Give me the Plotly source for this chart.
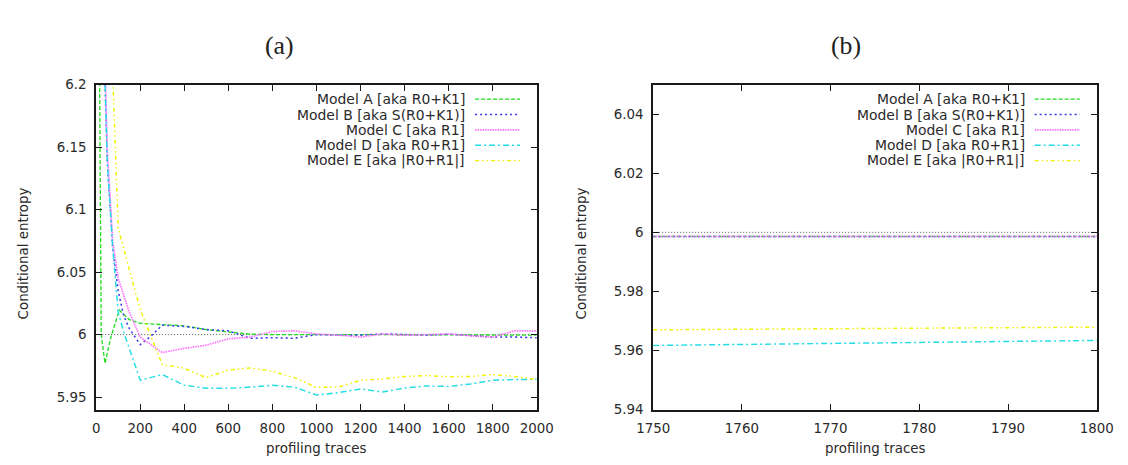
import plotly.graph_objects as go

# ---------------- data : panel (a) ----------------
a_x = [14, 19, 23, 40, 67, 105, 150, 200, 300, 400, 500, 600, 700, 800, 900, 1000,
       1200, 1400, 1600, 1800, 2000]
a_y = [6.25, 6.06, 6.0, 5.977, 5.998, 6.0195, 6.012, 6.009, 6.008, 6.007, 6.004, 6.002,
       6.0003, 6.0, 5.9998, 6.0, 6.0, 6.0, 6.0, 5.9995, 5.9995]

b_x = [25, 50, 75, 100, 125, 150, 200, 250, 300, 400, 500, 600, 700, 800, 900, 1000,
       1100, 1200, 1300, 1400, 1500, 1600, 1700, 1800, 1900, 2000]
b_y = [6.30, 6.14, 6.07, 6.035, 6.015, 6.005, 5.992, 5.999, 6.0075, 6.0065, 6.004, 6.003,
       5.997, 5.9975, 5.997, 6.0, 5.9995, 5.9995, 6.0006, 6.0, 5.9995, 6.0004, 5.999,
       5.998, 5.998, 5.9975]

c_x = [25, 50, 75, 100, 150, 200, 300, 400, 500, 600, 700, 800, 900, 1000, 1100, 1200,
       1300, 1400, 1500, 1600, 1700, 1800, 1900, 2000]
c_y = [6.32, 6.15, 6.075, 6.045, 6.018, 5.998, 5.9856, 5.989, 5.9915, 5.9966, 5.998,
       6.0025, 6.003, 6.0005, 5.9995, 5.998, 6.0005, 5.9995, 6.0, 6.0005, 5.999, 5.998,
       6.003, 6.003]

d_x = [25, 50, 75, 100, 125, 200, 300, 400, 500, 600, 700, 800, 900, 1000, 1100, 1200,
       1300, 1400, 1500, 1600, 1700, 1800, 1900, 2000]
d_y = [6.30, 6.14, 6.07, 6.018, 6.002, 5.9635, 5.968, 5.9595, 5.957, 5.957, 5.958,
       5.9594, 5.958, 5.9516, 5.9535, 5.9565, 5.954, 5.9572, 5.9589, 5.9585, 5.9605,
       5.9635, 5.964, 5.9642]

e_x = [50, 100, 200, 300, 400, 500, 600, 700, 800, 900, 1000, 1100, 1200, 1300, 1400,
       1500, 1600, 1700, 1800, 1900, 2000]
e_y = [6.335, 6.085, 6.02, 5.976, 5.973, 5.9655, 5.9716, 5.9733, 5.9706, 5.9655, 5.9578,
       5.958, 5.9635, 5.9645, 5.9665, 5.9672, 5.9663, 5.9665, 5.968, 5.9665, 5.9642]

# ---------------- data : panel (b) ----------------
zoom_x = [1750, 1775, 1800]
zoom_a = [5.9986, 5.9986, 5.9986]
zoom_b = [5.9986, 5.9986, 5.9986]
zoom_c = [5.9986, 5.9986, 5.9986]
zoom_d = [5.9617, 5.9625, 5.9634]
zoom_e = [5.9670, 5.9674, 5.9679]

reference_level = 6.0

names = ["Model A [aka R0+K1]", "Model B [aka S(R0+K1)]", "Model C [aka R1]",
         "Model D [aka R0+R1]", "Model E [aka |R0+R1|]"]

# tick labels
a_xticks = [0, 200, 400, 600, 800, 1000, 1200, 1400, 1600, 1800, 2000]
a_yticks = [5.95, 6.0, 6.05, 6.1, 6.15, 6.2]
a_yticktext = ["5.95", "6", "6.05", "6.1", "6.15", "6.2"]
b_xticks = [1750, 1760, 1770, 1780, 1790, 1800]
b_yticks = [5.94, 5.96, 5.98, 6.0, 6.02, 6.04]
b_yticktext = ["5.94", "5.96", "5.98", "6", "6.02", "6.04"]

# ---------------- styles / geometry ----------------
colors = ["#22dd22", "#3838f0", "#ff70ff", "#22dde6", "#f2f200"]
dashes = ["4px,2px", "2px,3px", "1.5px,1px", "6px,3px,2px,3px", "4px,3px,1.5px,3px,1.5px,3px"]
widths = [1.35, 1.55, 1.65, 1.45, 1.45]

FONT = "DejaVu Sans"
TXT = "#2a2a2a"

W, H = 1128, 465
# mapping of the rendered page (measured): shown = O + S * design
SX, OX = 0.9716, 16.0
SY, OY = 0.970, 7.0


def px_x(p):
    return ((p - OX) / SX) / W


def px_y(p):
    return 1 - ((p - OY) / SY) / H


def fs(s):
    return s / SY


fig = go.Figure()

series_a = [(a_x, a_y), (b_x, b_y), (c_x, c_y), (d_x, d_y), (e_x, e_y)]
series_b = [(zoom_x, zoom_a), (zoom_x, zoom_b), (zoom_x, zoom_c), (zoom_x, zoom_d), (zoom_x, zoom_e)]

for i, (xs, ys) in enumerate(series_a):
    fig.add_trace(go.Scatter(x=xs, y=ys, mode="lines", name=names[i], showlegend=False,
                             line=dict(color=colors[i], dash=dashes[i], width=widths[i]),
                             xaxis="x", yaxis="y"))
for i, (xs, ys) in enumerate(series_b):
    fig.add_trace(go.Scatter(x=xs, y=ys, mode="lines", name=names[i], showlegend=False,
                             line=dict(color=colors[i], dash=dashes[i], width=widths[i]),
                             xaxis="x2", yaxis="y2"))

# reference dotted line at 6
for xr, yr in (("x", "y"), ("x2", "y2")):
    fig.add_shape(type="line", xref=xr + " domain", yref=yr, x0=0, x1=1,
                  y0=reference_level, y1=reference_level,
                  line=dict(color="#555555", width=1, dash="1px,2px"), layer="below")

# legends (gnuplot style: text right-aligned, sample to the right)
plot_h = 325.7
for xr, yr in (("x", "y"), ("x2", "y2")):
    for i, nm in enumerate(names):
        yd = 1 - (14.6 + 15.4 * i) / plot_h
        fig.add_annotation(xref=xr + " domain", yref=yr + " domain", x=0.842, y=yd,
                           text=nm, showarrow=False, xanchor="right", yanchor="middle",
                           font=dict(family=FONT, size=fs(13.5), color=TXT))
        fig.add_shape(type="line", xref=xr + " domain", yref=yr + " domain",
                      x0=0.860, x1=0.962, y0=yd, y1=yd,
                      line=dict(color=colors[i], dash=dashes[i], width=widths[i]))

# panel titles
for txt, px in (("(a)", 279), ("(b)", 846)):
    fig.add_annotation(xref="paper", yref="paper", x=px_x(px), y=px_y(46),
                       text=txt, showarrow=False, xanchor="center", yanchor="middle",
                       font=dict(family="Liberation Serif", size=fs(25), color="#222222"))

# axis titles
for px in (22, 581):
    fig.add_annotation(xref="paper", yref="paper", x=px_x(px), y=px_y(254),
                       text="Conditional entropy", textangle=-90, showarrow=False,
                       xanchor="center", yanchor="middle",
                       font=dict(family=FONT, size=fs(13), color=TXT))
for px in (316.5, 876):
    fig.add_annotation(xref="paper", yref="paper", x=px_x(px), y=px_y(450),
                       text="profiling traces", showarrow=False,
                       xanchor="center", yanchor="middle",
                       font=dict(family=FONT, size=fs(13), color=TXT))

ax_common = dict(showline=True, linecolor="#1a1a1a", linewidth=1.65, mirror="ticks",
                 ticks="inside", ticklen=6.2, tickwidth=1.3, tickcolor="#1a1a1a",
                 showgrid=False, zeroline=False,
                 tickfont=dict(family=FONT, size=fs(13), color=TXT))

ydom = [px_y(410.5), px_y(84.8)]

fig.update_layout(
    width=W, height=H, margin=dict(l=0, r=0, t=0, b=0),
    paper_bgcolor="white", plot_bgcolor="white", showlegend=False,
    xaxis=dict(domain=[px_x(95.3), px_x(536.7)], range=[0, 2000], tickvals=a_xticks,
               anchor="y", ticklabelstandoff=6, **ax_common),
    yaxis=dict(domain=ydom, range=[5.94, 6.2], tickvals=a_yticks, ticktext=a_yticktext,
               anchor="x", ticklabelstandoff=5, **ax_common),
    xaxis2=dict(domain=[px_x(653.3), px_x(1097.7)], range=[1750, 1800], tickvals=b_xticks,
                anchor="y2", ticklabelstandoff=6, **ax_common),
    yaxis2=dict(domain=ydom, range=[5.94, 6.05], tickvals=b_yticks, ticktext=b_yticktext,
                anchor="x2", ticklabelstandoff=5, **ax_common),
)

fig.write_html("out.html")
